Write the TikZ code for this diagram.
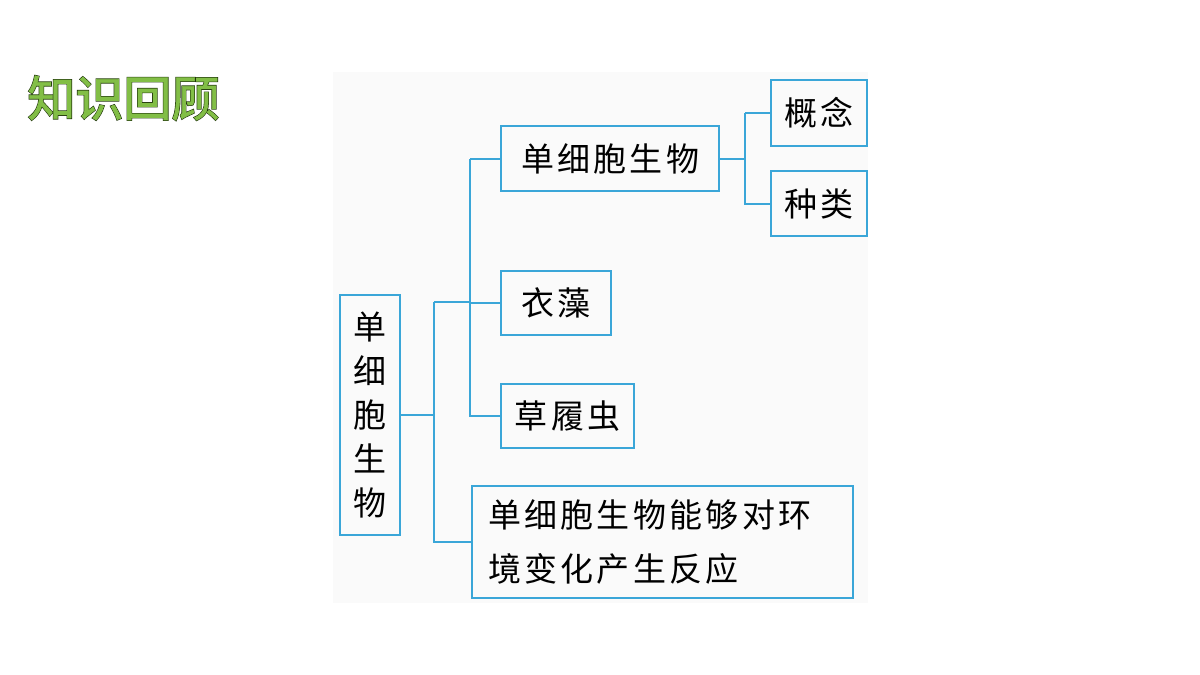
\documentclass[tikz,border=0pt]{standalone}
\usepackage{fontspec}
\usetikzlibrary{positioning}
\newfontfamily\cjk[LetterSpace=10]{Noto Sans CJK SC}
\newfontfamily\cjkthick[FakeBold=4]{Noto Sans CJK SC}
\newfontfamily\cjkbold[FakeBold=1.5]{Noto Sans CJK SC}
\definecolor{mapblue}{RGB}{58,166,216}
\definecolor{titlegreen}{RGB}{130,190,70}
\definecolor{titledark}{RGB}{30,50,10}
\tikzset{
  mapbox/.style={draw=mapblue, line width=2.2pt, font=\cjk\fontsize{33}{54}\selectfont,
    inner sep=0pt, anchor=north west},
  maplink/.style={draw=mapblue, line width=2.2pt}
}
\begin{document}
\begin{tikzpicture}[x=1pt,y=-1pt]
  \useasboundingbox (0,0) rectangle (1200,675);
  \fill[black!2] (333,72) rectangle (868,603);
  % title
  \node[anchor=west, text=titledark, font=\cjkthick\fontsize{48}{48}\selectfont] (titleshadow) at (24,98) {知识回顾};
  \node[anchor=west, text=titlegreen, font=\cjkbold\fontsize{48}{48}\selectfont] (title) at (24,98) {知识回顾};
  % boxes
  \node[mapbox, minimum width=60pt, minimum height=240pt, align=center] (root) at (339,294)
    {单\\[-10pt]细\\[-10pt]胞\\[-10pt]生\\[-10pt]物};
  \node[mapbox, minimum width=218pt, minimum height=65pt] (single) at (500,125) {单细胞生物};
  \node[mapbox, minimum width=96pt, minimum height=66pt] (concept) at (770,79) {概念};
  \node[mapbox, minimum width=96pt, minimum height=65pt] (kinds) at (770,170) {种类};
  \node[mapbox, minimum width=110pt, minimum height=64pt] (alga) at (500,270) {衣藻};
  \node[mapbox, minimum width=133pt, minimum height=64pt] (para) at (500,383) {草履虫};
  \node[mapbox, minimum width=381pt, minimum height=112pt, align=left, text width=349pt,
    inner xsep=16pt] (react) at (471,485)
    {单细胞生物能够对环\\境变化产生反应};
  % connectors
  \coordinate (rootfork) at (434,424);
  \coordinate (midfork) at (470,302);
  \coordinate (topfork) at (745,157);
  \draw[maplink] (root.east) -- (root.east -| rootfork);
  \draw[maplink] (rootfork |- midfork) -- (rootfork |- react.west) -- (react.west);
  \draw[maplink] (rootfork |- midfork) -- (midfork);
  \draw[maplink] (midfork |- single.west) -- (midfork |- para.west) -- (para.west);
  \draw[maplink] (midfork |- single.west) -- (single.west);
  \draw[maplink] (midfork |- alga.west) -- (alga.west);
  \draw[maplink] (single.east) -- (single.east -| topfork);
  \draw[maplink] (topfork |- concept.west) -- (concept.west);
  \draw[maplink] (topfork |- concept.west) -- (topfork |- kinds.west) -- (kinds.west);
\end{tikzpicture}
\end{document}
